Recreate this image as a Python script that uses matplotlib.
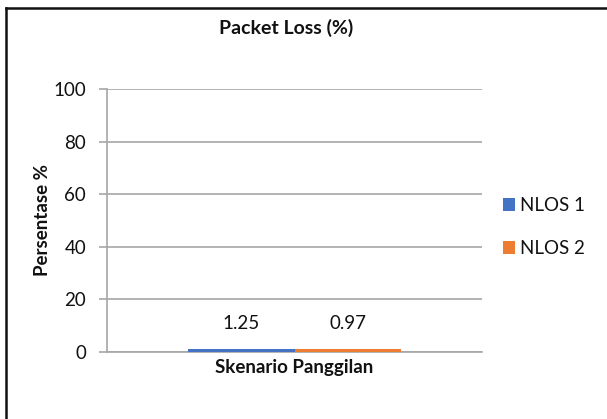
import matplotlib
matplotlib.use("Agg")
import matplotlib.pyplot as plt
from matplotlib.lines import Line2D
import numpy as np

plt.rcParams['font.family'] = ['Lato', 'DejaVu Sans']

title = "Packet Loss (%)"
category = "Skenario Panggilan"
series = ["NLOS 1", "NLOS 2"]
values = [1.25, 0.97]
colors = ["#4472C4", "#ED7D31"]
yticks = [0, 20, 40, 60, 80, 100]

FS = 13.5
TXT = "#111111"

fig = plt.figure(figsize=(6.07, 4.19), dpi=100)
ax = fig.add_axes([0.1763, 0.1599, 0.6178, 0.6277])

width = 0.283
offsets = [-width / 2, width / 2]
for name, val, col, off in zip(series, values, colors, offsets):
    ax.bar(off, val, width=width, color=col, label=name, zorder=3)
    ax.text(off, val + 6.5, f"{val:.2f}", ha="center", va="bottom",
            fontsize=FS, color=TXT)

ax.set_xlim(-0.5, 0.5)
ax.set_ylim(0, 100)
ax.set_yticks(yticks)
ax.set_yticklabels([str(t) for t in yticks], fontsize=FS, color=TXT)
ax.set_xticks([])
ax.yaxis.grid(True, color="#A6A6A6", linewidth=1.2, zorder=0)
ax.tick_params(axis="y", length=6, width=1.2, color="#A6A6A6", pad=9)

for side in ["top", "right"]:
    ax.spines[side].set_visible(False)
ax.spines["left"].set_color("#A6A6A6")
ax.spines["left"].set_linewidth(1.2)
ax.spines["bottom"].set_color("#A6A6A6")
ax.spines["bottom"].set_linewidth(1.2)

ax.set_xlabel(category, fontsize=FS, fontweight="bold", labelpad=5, color=TXT)
ax.set_ylabel("Persentase %", fontsize=FS, fontweight="bold", labelpad=2, color=TXT)
fig.text(0.472, 0.933, title, ha="center", va="center",
         fontsize=FS + 0.5, fontweight="bold", color=TXT)

leg = ax.legend(loc="center left", bbox_to_anchor=(1.01, 0.475), frameon=False,
                fontsize=FS, handlelength=0.65, handleheight=0.65,
                handletextpad=0.3, labelspacing=1.4)
for t in leg.get_texts():
    t.set_color(TXT)

# outer frame (top and left edges)
fig.add_artist(Line2D([0.0107, 1.0], [0.981, 0.981], transform=fig.transFigure,
                      color="#111111", linewidth=1.8))
fig.add_artist(Line2D([0.0107, 0.0107], [0.0, 0.981], transform=fig.transFigure,
                      color="#111111", linewidth=1.8))

fig.savefig("out.png", dpi=100)
